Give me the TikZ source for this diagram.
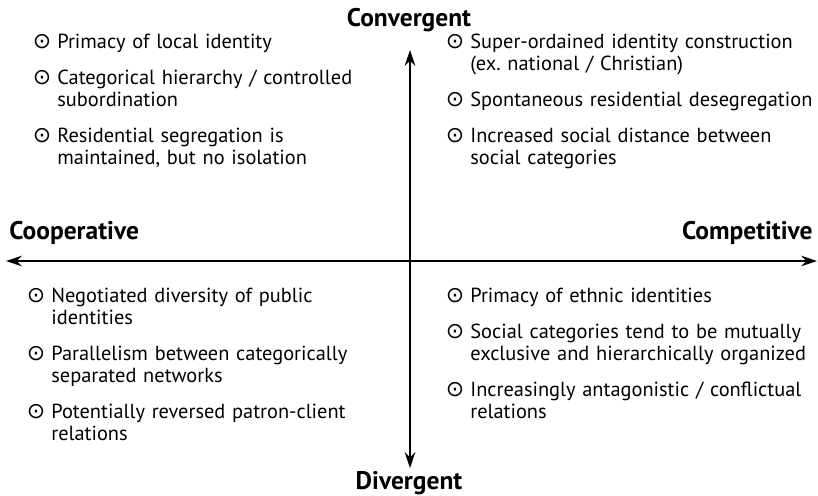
\documentclass[tikz,border=0pt]{standalone}
\usepackage{fontspec}
\setmainfont{PT Sans}
\newfontfamily\symfont{DejaVu Sans}
\usetikzlibrary{arrows.meta}

\begin{document}
\begin{tikzpicture}[x=0.02cm, y=-0.02cm,
    axis/.style={line width=0.7pt, -{Stealth[length=9pt, width=6pt]}},
    pole/.style={font=\fontsize{14.5}{17}\selectfont\bfseries, inner sep=0pt},
    item/.style={font=\fontsize{11.6}{12.6}\selectfont, text width=7.5cm, align=left, inner sep=0pt, anchor=base west},
    bul/.style={font=\fontsize{12.5}{12.5}\symfont, inner sep=0pt, anchor=base east}]

    % Fix the page size
    \useasboundingbox (0,0) rectangle (818,495);

    % Pole labels
    \node[pole, anchor=base] (conv) at (409,26) {Convergent};
    \node[pole, anchor=base] (div) at (409,489) {Divergent};
    \node[pole, anchor=base west] (coop) at (9,239) {Cooperative};
    \node[pole, anchor=base east] (comp) at (813,239) {Competitive};

    % Axes
    \coordinate (origin) at (410,261);
    \coordinate (top) at (410,50);
    \coordinate (bottom) at (410,468);
    \coordinate (left) at (6,261);
    \coordinate (right) at (817,261);
    \draw[axis] (origin) -- (top);
    \draw[axis] (origin) -- (bottom);
    \draw[axis] (origin) -- (left);
    \draw[axis] (origin) -- (right);

    % Convergent / cooperative
    \foreach \n/\y/\t in {tl1/48/{Primacy of local identity},
                          tl2/84/{Categorical hierarchy / controlled\\subordination},
                          tl3/142/{Residential segregation is\\maintained, but no isolation}}
        {\node[item] (\n) at (57,\y) {\t};
         \node[bul] at ([xshift=-3pt]\n.base west) {⊙};}

    % Convergent / competitive
    \foreach \n/\y/\t in {tr1/48/{Super-ordained identity construction\\(ex.\ national / Christian)},
                          tr2/106/{Spontaneous residential desegregation},
                          tr3/142/{Increased social distance between\\social categories}}
        {\node[item] (\n) at (470,\y) {\t};
         \node[bul] at ([xshift=-3pt]\n.base west) {⊙};}

    % Divergent / cooperative
    \foreach \n/\y/\t in {bl1/302/{Negotiated diversity of public\\identities},
                          bl2/360/{Parallelism between categorically\\separated networks},
                          bl3/418/{Potentially reversed patron-client\\relations}}
        {\node[item] (\n) at (51,\y) {\t};
         \node[bul] at ([xshift=-3pt]\n.base west) {⊙};}

    % Divergent / competitive
    \foreach \n/\y/\t in {br1/302/{Primacy of ethnic identities},
                          br2/338/{Social categories tend to be mutually\\exclusive and hierarchically organized},
                          br3/396/{Increasingly antagonistic / conflictual\\relations}}
        {\node[item] (\n) at (470,\y) {\t};
         \node[bul] at ([xshift=-3pt]\n.base west) {⊙};}

\end{tikzpicture}
\end{document}
